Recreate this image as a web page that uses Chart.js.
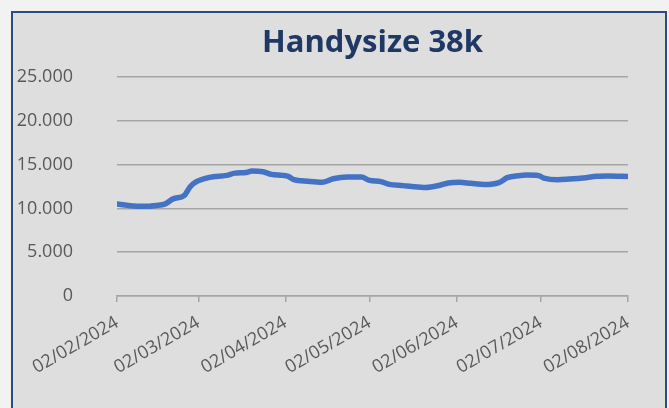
<!DOCTYPE html>
<html>
<head>
<meta charset="utf-8">
<script src="https://cdn.jsdelivr.net/npm/chart.js@4.4.0/dist/chart.umd.min.js"></script>
<style>
  body { margin: 0; background: #f2f2f2; width: 669px; height: 408px; overflow: hidden; }
  #box {
    position: absolute; left: 11px; top: 11px;
    width: 652px; height: 410px;
    border: 2px solid #2f4b7c; background: #dedede;
  }
  #myChart { position: absolute; left: 0; top: 0; }
</style>
</head>
<body>
<div id="box"><canvas id="myChart" width="652" height="395"></canvas></div>
<script>
// data
var dates = [
  "2024-02-02", "2024-02-06", "2024-02-12", "2024-02-16", "2024-02-19", "2024-02-22",
  "2024-02-26", "2024-02-28", "2024-03-01", "2024-03-06", "2024-03-12", "2024-03-15",
  "2024-03-19", "2024-03-21", "2024-03-25", "2024-03-28", "2024-04-01", "2024-04-03",
  "2024-04-05", "2024-04-10", "2024-04-15", "2024-04-19", "2024-04-24", "2024-04-29",
  "2024-05-02", "2024-05-06", "2024-05-09", "2024-05-14", "2024-05-17", "2024-05-22",
  "2024-05-27", "2024-05-30", "2024-06-03", "2024-06-07", "2024-06-12", "2024-06-17",
  "2024-06-20", "2024-06-24", "2024-06-27", "2024-07-01", "2024-07-03", "2024-07-08",
  "2024-07-12", "2024-07-17", "2024-07-22", "2024-07-26", "2024-08-02"
];
var rates = [
  10500, 10350, 10250, 10350, 10500, 11100,
  11500, 12450, 13000, 13550, 13780, 14040,
  14120, 14270, 14200, 13900, 13780, 13670,
  13290, 13100, 12990, 13400, 13590, 13590,
  13210, 13070, 12760, 12610, 12500, 12390,
  12650, 12910, 12990, 12870, 12730, 12950,
  13520, 13750, 13820, 13780, 13480, 13290,
  13360, 13480, 13670, 13700, 13650
];
var tickDates = ["2024-02-02", "2024-03-02", "2024-04-02", "2024-05-02", "2024-06-02", "2024-07-02", "2024-08-02"];
var chartTitle = "Handysize 38k";

var start = Date.UTC(2024, 1, 2);
function dayOf(s) {
  var p = s.split("-");
  return (Date.UTC(+p[0], +p[1] - 1, +p[2]) - start) / 86400000;
}
function fmtDay(d) {
  var t = new Date(start + d * 86400000);
  var dd = String(t.getUTCDate()).padStart(2, "0");
  var mm = String(t.getUTCMonth() + 1).padStart(2, "0");
  return dd + "/" + mm + "/" + t.getUTCFullYear();
}

var points = dates.map(function(d, i){ return { x: dayOf(d), y: rates[i] }; });
var tickDays = tickDates.map(dayOf);

new Chart("myChart", {
  type: "line",
  data: {
    datasets: [{
      data: points,
      borderColor: "#4472c4",
      borderWidth: 5.5,
      borderCapStyle: "round",
      pointRadius: 0,
      tension: 0.4,
      cubicInterpolationMode: "monotone"
    }]
  },
  options: {
    responsive: false,
    animation: false,
    layout: { padding: { left: 0, right: 37, top: 0, bottom: 0 } },
    plugins: {
      legend: { display: false },
      tooltip: { enabled: false },
      title: {
        display: true,
        fullSize: false,
        text: chartTitle,
        color: "#1f3864",
        font: { family: "Open Sans", size: 31, weight: "bold" },
        padding: { top: 12, bottom: 15 }
      }
    },
    scales: {
      x: {
        type: "linear",
        min: 0,
        max: tickDays[tickDays.length - 1],
        afterBuildTicks: function(scale){
          scale.ticks = tickDays.map(function(v){ return { value: v }; });
        },
        afterFit: function(scale){ scale.height = 112; },
        grid: {
          drawOnChartArea: false,
          drawTicks: true,
          tickLength: 6,
          color: "#a5a5a5",
          lineWidth: 1.5
        },
        border: { display: true, color: "#a5a5a5", width: 1.5 },
        ticks: {
          autoSkip: false,
          minRotation: 30,
          maxRotation: 30,
          padding: 10,
          color: "#595959",
          font: { family: "Open Sans", size: 18 },
          callback: function(v){ return fmtDay(v); }
        }
      },
      y: {
        min: 0,
        max: 25000,
        afterFit: function(scale){ scale.width = 104; },
        grid: { color: "#a5a5a5", lineWidth: 1.5, drawTicks: true, tickLength: 40, tickColor: "rgba(0,0,0,0)" },
        border: { display: false },
        ticks: {
          stepSize: 5000,
          padding: 4,
          color: "#595959",
          font: { family: "Open Sans", size: 18 },
          callback: function(v){ return v.toLocaleString("de-DE"); }
        }
      }
    }
  }
});
</script>
</body>
</html>
